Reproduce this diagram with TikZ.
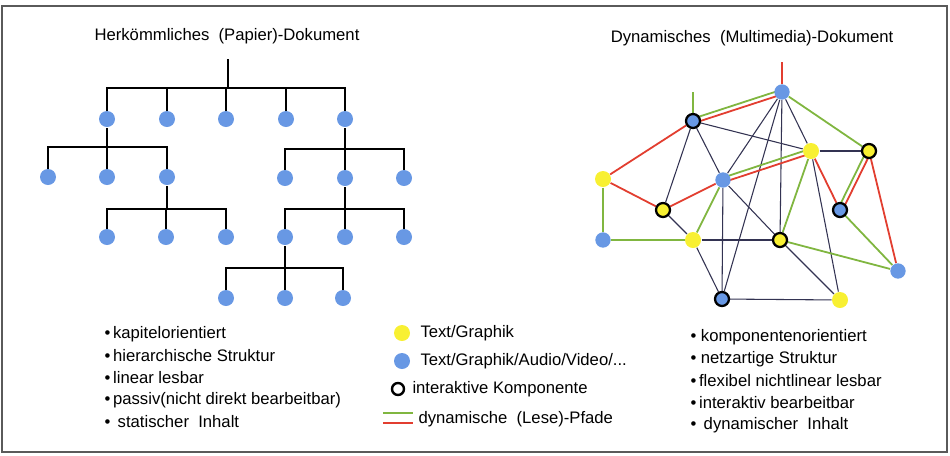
\documentclass[tikz,border=0pt]{standalone}
\usepackage{fontspec}
\setmainfont{Liberation Sans}
\usetikzlibrary{calc,backgrounds}

\definecolor{dotblue}{RGB}{104,152,228}
\definecolor{dotyellow}{RGB}{248,240,50}
\definecolor{pathred}{RGB}{226,62,48}
\definecolor{pathgreen}{RGB}{128,182,64}
\definecolor{framegray}{RGB}{90,90,90}

\tikzset{every picture/.style={line width=0.75pt}}

% red and green reading path side by side (left node first)
\newcommand{\pathpair}[2]{%
  \draw [redpath] ($(#1.center)!1.7pt!90:(#2.center)$) -- ($(#2.center)!1.7pt!-90:(#1.center)$);
  \draw [greenpath] ($(#1.center)!1.7pt!-90:(#2.center)$) -- ($(#2.center)!1.7pt!90:(#1.center)$);}

\begin{document}
\begin{tikzpicture}[x=0.75pt,y=0.75pt,yscale=-1,xscale=1,
  bluedot/.style={circle,fill=dotblue,inner sep=0pt,minimum size=12pt},
  yellowdot/.style={circle,fill=dotyellow,inner sep=0pt,minimum size=12pt},
  active/.style={draw=black,line width=1.7pt,minimum size=10.5pt},
  treeline/.style={line width=1pt,black},
  netline/.style={line width=0.8pt,black!80!blue!60!gray},
  redpath/.style={line width=1.35pt,pathred},
  greenpath/.style={line width=1.35pt,pathgreen},
  label/.style={font=\fontsize{12.5}{15}\selectfont,inner sep=0pt,anchor=west}]
	\useasboundingbox (0,0) rectangle (950,455);
	%Frame
	\draw [framegray,line width=1.1pt] (2,6) rectangle (947,452);

	% Text Node
	\draw (227,36) node [label,anchor=center] (lefttitle) {Herkömmliches\ \ (Papier)-Dokument};
	% Text Node
	\draw (752,38) node [label,anchor=center] (righttitle) {Dynamisches\ \ (Multimedia)-Dokument};

	%Tree: chapters
	\coordinate (troot) at (228,59);
	\node [bluedot] (ka) at (107,119) {};
	\node [bluedot] (kb) at (167,119) {};
	\node [bluedot] (kc) at (226,119) {};
	\node [bluedot] (kd) at (286,119) {};
	\node [bluedot] (ke) at (345,119) {};
	\node [bluedot] (kaa) at (48,177) {};
	\node [bluedot] (kab) at (107,177) {};
	\node [bluedot] (kac) at (167,177) {};
	\node [bluedot] (kea) at (285,178) {};
	\node [bluedot] (keb) at (345,178) {};
	\node [bluedot] (kec) at (404,178) {};
	\node [bluedot] (kaca) at (107,237) {};
	\node [bluedot] (kacb) at (166,237) {};
	\node [bluedot] (kacc) at (226,237) {};
	\node [bluedot] (keba) at (285,237) {};
	\node [bluedot] (kebb) at (345,237) {};
	\node [bluedot] (kebc) at (404,237) {};
	\node [bluedot] (kebaa) at (226,298) {};
	\node [bluedot] (kebab) at (285,298) {};
	\node [bluedot] (kebac) at (343,298) {};

	\begin{scope}[on background layer]
	\draw [treeline] (ka) -- ++(0,-31) -| (troot);
	\draw [treeline] (kb) -- ++(0,-31) -| (troot);
	\draw [treeline] (kc) -- ++(0,-31) -| (troot);
	\draw [treeline] (kd) -- ++(0,-31) -| (troot);
	\draw [treeline] (ke) -- ++(0,-31) -| (troot);
	\draw [treeline] (kaa) -- ++(0,-30) -| (ka);
	\draw [treeline] (kab) -- ++(0,-30) -| (ka);
	\draw [treeline] (kac) -- ++(0,-30) -| (ka);
	\draw [treeline] (kea) -- ++(0,-29) -| (ke);
	\draw [treeline] (keb) -- ++(0,-29) -| (ke);
	\draw [treeline] (kec) -- ++(0,-29) -| (ke);
	\draw [treeline] (kaca) -- ++(0,-28) -| (kac);
	\draw [treeline] (kacb) -- ++(0,-28) -| (kac);
	\draw [treeline] (kacc) -- ++(0,-28) -| (kac);
	\draw [treeline] (keba) -- ++(0,-28) -| (keb);
	\draw [treeline] (kebb) -- ++(0,-28) -| (keb);
	\draw [treeline] (kebc) -- ++(0,-28) -| (keb);
	\draw [treeline] (kebaa) -- ++(0,-30) -| (keba);
	\draw [treeline] (kebab) -- ++(0,-30) -| (keba);
	\draw [treeline] (kebac) -- ++(0,-30) -| (keba);
	\end{scope}

	%Net: components
	\node [bluedot,minimum size=11.5pt] (ma) at (782,92) {};
	\node [bluedot,active] (mb) at (693,121) {};
	\node [yellowdot] (mc) at (811,151) {};
	\node [yellowdot,active] (md) at (869,151) {};
	\node [yellowdot] (me) at (603,179) {};
	\node [bluedot,minimum size=11.5pt] (mf) at (723,180) {};
	\node [yellowdot,active] (mg) at (663,210) {};
	\node [bluedot,active] (mh) at (840,210) {};
	\node [bluedot,minimum size=11.5pt] (mi) at (603,240) {};
	\node [yellowdot] (mj) at (693,240) {};
	\node [yellowdot,active] (mk) at (780,240) {};
	\node [bluedot,minimum size=11.5pt] (ml) at (898,271) {};
	\node [bluedot,active] (mm) at (722,299) {};
	\node [yellowdot] (mn) at (840,300) {};
	\coordinate (mastub) at (782,62);
	\coordinate (mbstub) at (693,92);

	\begin{scope}[on background layer]
	%Straight Lines
	\draw [netline] (mb) -- (mf);
	\draw [netline] (mb) -- (mg);
	\draw [netline] (mb) -- (mc);
	\draw [netline] (ma) -- (mf);
	\draw [netline] (ma) -- (mm);
	\draw [netline] (ma) -- (mk);
	\draw [netline] (ma) -- (mc);
	\draw [netline] (mc) -- (md);
	\draw [netline] (mc) -- (mn);
	\draw [netline] (mf) -- (mm);
	\draw [netline] (mf) -- (mk);
	\draw [netline] (mg) -- (mj);
	\draw [netline] (mj) -- (mk);
	\draw [netline] (mj) -- (mm);
	\draw [netline] (mk) -- (mn);
	\draw [netline] (mm) -- (mn);
	%Reading paths
	\draw [redpath] (mastub) -- (ma);
	\draw [greenpath] (mbstub) -- (mb);
	\pathpair{mb}{ma}
	\pathpair{mf}{mc}
	\pathpair{mh}{md}
	\draw [redpath] (mb) -- (me);
	\draw [redpath] (me) -- (mg);
	\draw [redpath] (mg) -- (mf);
	\draw [redpath] (mc) -- (mh);
	\draw [redpath] (md) -- (ml);
	\draw [greenpath] (me) -- (mi);
	\draw [greenpath] (mi) -- (mj);
	\draw [greenpath] (mj) -- (mf);
	\draw [greenpath] (mc) -- (mk);
	\draw [greenpath] (ma) -- (md);
	\draw [greenpath] (mk) -- (ml);
	\draw [greenpath] (mh) -- (ml);
	\end{scope}

	% Text Node
	\draw (104,334) node [label] (la) {•\,kapitelorientiert};
	\draw (104,356) node [label] (lb) {•\,hierarchische Struktur};
	\draw (104,378) node [label] (lc) {•\,linear lesbar};
	\draw (104,400) node [label] (ld) {•\,passiv(nicht direkt bearbeitbar)};
	\draw (104,422) node [label] (le) {•\ \,statischer\ \ Inhalt};

	%Legend
	\node [yellowdot,minimum size=12pt] (lgy) at (402,333) {};
	\node [bluedot,minimum size=12pt] (lgb) at (402,361) {};
	\node [circle,draw=black,line width=1.8pt,inner sep=0pt,minimum size=9pt] (lgi) at (398,389) {};
	\coordinate (lggreen) at (383,413);
	\coordinate (lgred) at (383,423);
	\draw [greenpath] (lggreen) -- ++(30,0);
	\draw [redpath] (lgred) -- ++(30,0);
	\draw (420,333) node [label] (lty) {Text/Graphik};
	\draw (420,361) node [label] (ltb) {Text/Graphik/Audio/Video/...};
	\draw (412,389) node [label] (lti) {interaktive Komponente};
	\draw (418,419) node [label] (ltp) {dynamische\ \ (Lese)-Pfade};

	% Text Node
	\draw (690,337) node [label] (ra) {•\ komponentenorientiert};
	\draw (690,359) node [label] (rb) {•\ netzartige Struktur};
	\draw (690,381) node [label] (rc) {•\,flexibel nichtlinear lesbar};
	\draw (690,403) node [label] (rd) {•\,interaktiv bearbeitbar};
	\draw (690,425) node [label] (re) {•\ \,dynamischer\ \ Inhalt};

	\end{tikzpicture}
\end{document}
